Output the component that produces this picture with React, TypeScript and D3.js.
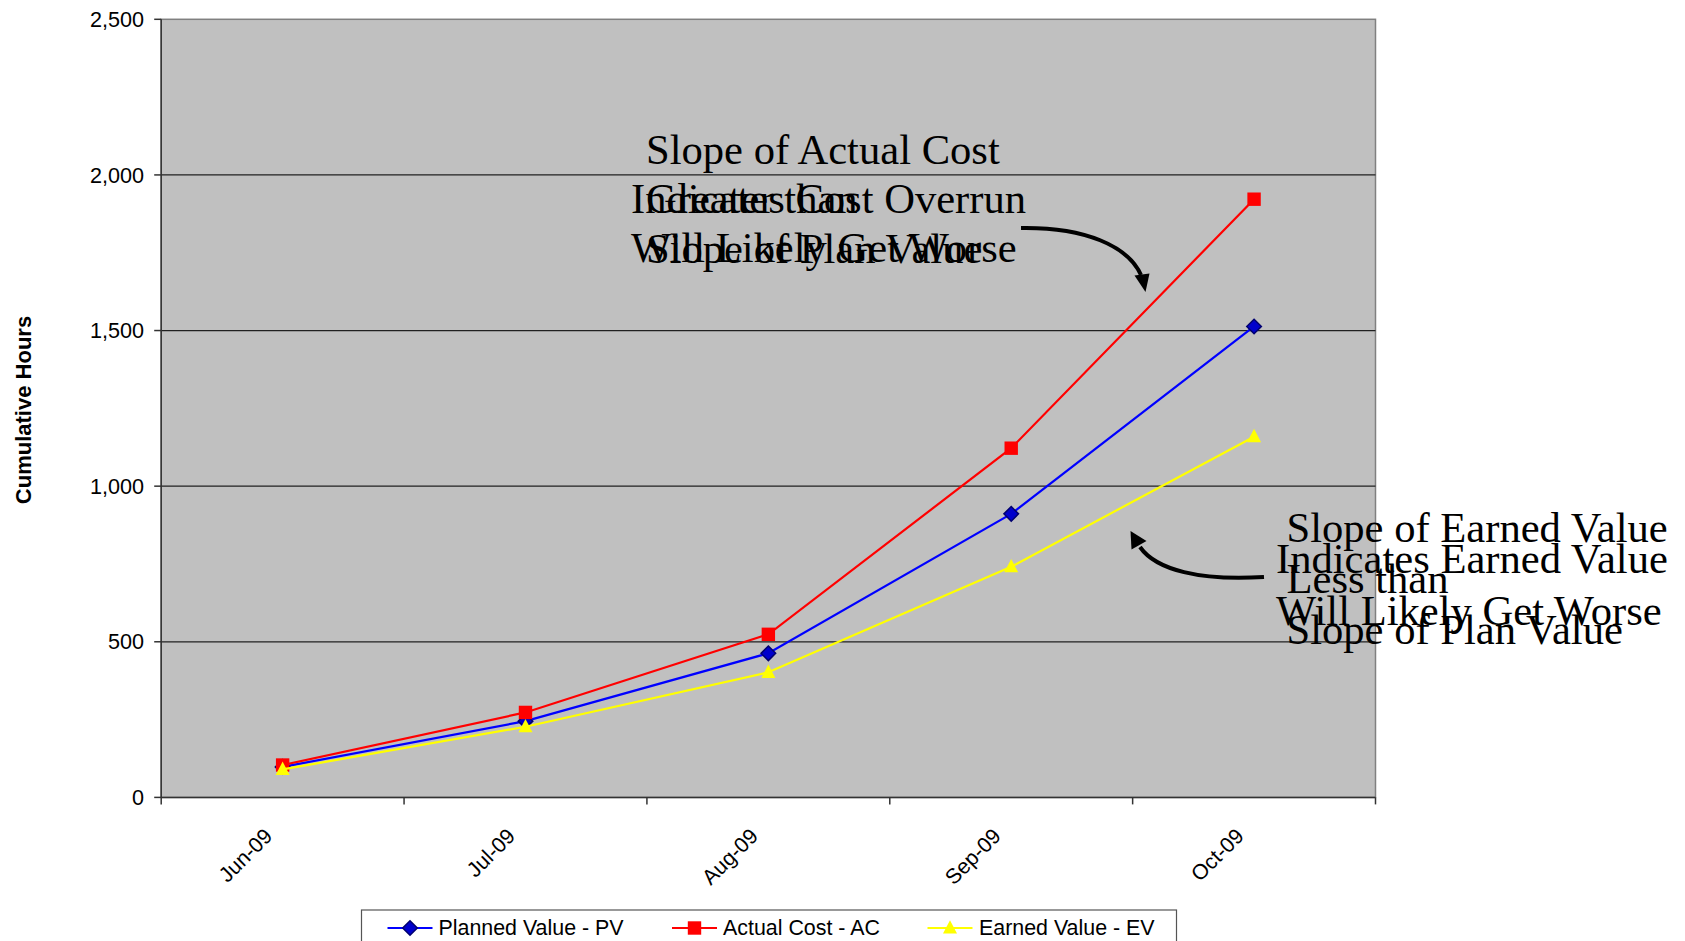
import React from "react";
import * as d3 from "d3";

const categories = ["Jun-09", "Jul-09", "Aug-09", "Sep-09", "Oct-09"];
const plannedValue = [98, 245, 463, 911, 1513];
const actualCost = [104, 273, 524, 1122, 1922];
const earnedValue = [90, 227, 402, 741, 1159];
const yTicks = [0, 500, 1000, 1500, 2000, 2500];
const seriesNames = ["Planned Value - PV", "Actual Cost - AC", "Earned Value - EV"];
const annotationTop1 = ["Slope of Actual Cost", "Greater than", "Slope of Plan Value"];
const annotationTop2 = ["Indicates Cost Overrun", "Will Likely Get Worse"];
const annotationBottom1 = ["Slope of Earned Value", "Less than", "Slope of Plan Value"];
const annotationBottom2 = ["Indicates Earned Value", "Will Likely Get Worse"];

const W = 1685;
const H = 941;
const L = 161.2, R = 1375.5, T = 19.3, B = 797.4;

const SANS = "'Liberation Sans', Arial, sans-serif";
const SERIF = "'Liberation Serif', 'Times New Roman', serif";

type Kind = "diamond" | "square" | "triangle";

function marker(kind: Kind, x: number, y: number, key: string | number) {
  if (kind === "diamond") {
    const r = 7.3;
    return (
      <path key={key} d={`M${x},${y - r}L${x + r},${y}L${x},${y + r}L${x - r},${y}Z`}
        fill="#0000CC" stroke="#000070" strokeWidth={1.5} />
    );
  }
  if (kind === "square") {
    const h = 6.7;
    return <rect key={key} x={x - h} y={y - h} width={2 * h} height={2 * h} fill="#FF0000" />;
  }
  const hw = 7;
  return (
    <path key={key} d={`M${x},${y - 7.8}L${x + hw},${y + 5.6}L${x - hw},${y + 5.6}Z`} fill="#FFFF00" />
  );
}

export default function App() {
  const x = d3.scaleBand<string>().domain(categories).range([L, R]).padding(0);
  const y = d3.scaleLinear().domain([0, 2500]).range([B, T]);
  const cx = (c: string) => (x(c) as number) + x.bandwidth() / 2;

  const series = [
    { name: seriesNames[0], values: plannedValue, color: "#0000FF", kind: "diamond" as Kind },
    { name: seriesNames[1], values: actualCost, color: "#FF0000", kind: "square" as Kind },
    { name: seriesNames[2], values: earnedValue, color: "#FFFF00", kind: "triangle" as Kind },
  ];

  const line = d3
    .line<number>()
    .x((_, i) => cx(categories[i]))
    .y((v) => y(v));

  const boundaries = [...categories.map((c) => x(c) as number), R];

  const legendItems = [
    { lx: 387.5, tx: 438.5 },
    { lx: 672, tx: 723 },
    { lx: 927.5, tx: 979 },
  ];

  return (
    <svg width={W} height={H} style={{ position: "absolute", left: 0, top: 0, display: "block" }}>
      <rect x={0} y={0} width={W} height={H} fill="#ffffff" />
      {/* plot area */}
      <rect x={L} y={T} width={R - L} height={B - T} fill="#C0C0C0" stroke="#808080" strokeWidth={1.5} />
      {/* gridlines */}
      {yTicks.filter((t) => t > 0 && t < 2500).map((t) => (
        <line key={t} x1={L} x2={R} y1={y(t)} y2={y(t)} stroke="#202020" strokeWidth={1.2} />
      ))}
      {/* axes */}
      <line x1={L} x2={L} y1={T} y2={B} stroke="#333" strokeWidth={1.5} />
      <line x1={L} x2={R} y1={B} y2={B} stroke="#333" strokeWidth={1.5} />
      {yTicks.map((t) => (
        <g key={t}>
          <line x1={L - 7} x2={L} y1={y(t)} y2={y(t)} stroke="#333" strokeWidth={1.5} />
          <text x={144} y={y(t) + 7.7} textAnchor="end" fontFamily={SANS} fontSize={21.6} fill="#000">
            {d3.format(",")(t)}
          </text>
        </g>
      ))}
      {boundaries.map((b, i) => (
        <line key={i} x1={b} x2={b} y1={B} y2={B + 7} stroke="#333" strokeWidth={1.5} />
      ))}
      {categories.map((c) => (
        <text key={c} transform={`translate(${cx(c) - 9},${B + 40}) rotate(-45)`} textAnchor="end"
          fontFamily={SANS} fontSize={21.3} fill="#000">
          {c}
        </text>
      ))}
      {/* y axis title */}
      <text transform={`translate(31,410) rotate(-90)`} textAnchor="middle" fontFamily={SANS}
        fontSize={22} fontWeight="bold" fill="#000">
        Cumulative Hours
      </text>

      {/* series */}
      {series.map((s) => (
        <g key={s.name}>
          <path d={line(s.values) as string} fill="none" stroke={s.color} strokeWidth={2.2} />
          {s.values.map((v, i) => marker(s.kind, cx(categories[i]), y(v), i))}
        </g>
      ))}

      {/* annotations */}
      <g fontFamily={SERIF} fontSize={42.6} fill="#000">
        {annotationTop1.map((t, i) => (
          <text key={"a" + i} x={646} y={163.5 + i * 49.5}>{t}</text>
        ))}
        {annotationTop2.map((t, i) => (
          <text key={"b" + i} x={631} y={212.5 + i * 49.5}>{t}</text>
        ))}
        {annotationBottom1.map((t, i) => (
          <text key={"c" + i} x={1286.5} y={541.5 + i * 51.2}>{t}</text>
        ))}
        {annotationBottom2.map((t, i) => (
          <text key={"d" + i} x={1276} y={572.5 + i * 52.3}>{t}</text>
        ))}
      </g>

      {/* arrows */}
      <path d="M1021,228 C1085,227 1128,246 1141,275" fill="none" stroke="#000" strokeWidth={4} />
      <path d="M1145.5,292 L1134.5,275.5 L1149.5,273.5 Z" fill="#000" />
      <path d="M1264,577 C1200,581 1156,570 1140,547" fill="none" stroke="#000" strokeWidth={4} />
      <path d="M1130.5,531 L1131.5,549.5 L1146.5,541 Z" fill="#000" />

      {/* legend */}
      <rect x={361.5} y={910} width={815} height={60} fill="#ffffff" stroke="#555" strokeWidth={1.2} />
      {series.map((s, i) => {
        const it = legendItems[i];
        return (
          <g key={s.name}>
            <line x1={it.lx} x2={it.lx + 45} y1={928} y2={928} stroke={s.color} strokeWidth={2.2} />
            {marker(s.kind, it.lx + 22.5, 928, "m")}
            <text x={it.tx} y={935} fontFamily={SANS} fontSize={21.4} fill="#000">{s.name}</text>
          </g>
        );
      })}
    </svg>
  );
}
